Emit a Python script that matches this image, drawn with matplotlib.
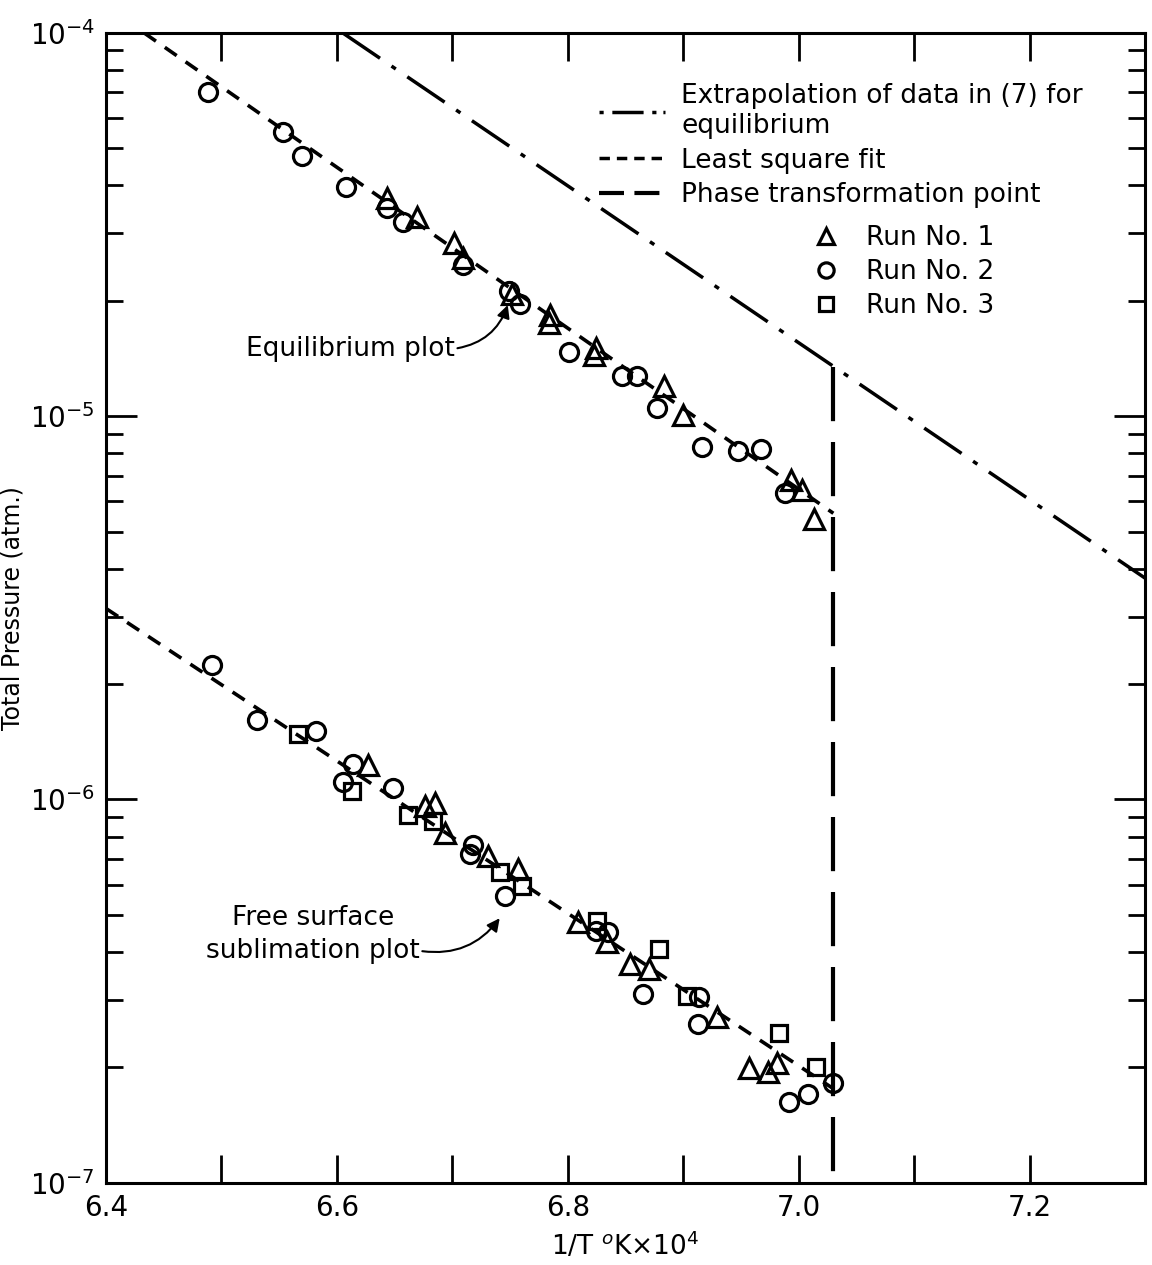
import matplotlib.pyplot as plt
from matplotlib.lines import Line2D
from matplotlib.ticker import MultipleLocator, LogLocator, NullFormatter

plt.rcParams['font.family'] = ['DejaVu Sans']

# Equilibrium plot (1/T x 10^4, total pressure atm)
eq_run1_x = [6.643, 6.669, 6.701, 6.709, 6.752, 6.785, 6.784, 6.824, 6.823,
             6.883, 6.900, 6.993, 7.003, 7.013]
eq_run1_p = [3.71e-5, 3.31e-5, 2.83e-5, 2.59e-5, 2.08e-5, 1.84e-5, 1.75e-5,
             1.51e-5, 1.44e-5, 1.20e-5, 1.01e-5, 6.8e-6, 6.4e-6, 5.4e-6]
eq_run2_x = [6.488, 6.553, 6.570, 6.608, 6.643, 6.657, 6.709, 6.749, 6.759,
             6.801, 6.847, 6.860, 6.877, 6.916, 6.947, 6.967, 6.988]
eq_run2_p = [7.0e-5, 5.5e-5, 4.78e-5, 3.96e-5, 3.49e-5, 3.21e-5, 2.48e-5,
             2.12e-5, 1.96e-5, 1.47e-5, 1.27e-5, 1.27e-5, 1.05e-5, 8.3e-6,
             8.1e-6, 8.2e-6, 6.3e-6]

# Free surface sublimation plot
fs_run1_x = [6.627, 6.676, 6.685, 6.694, 6.731, 6.757, 6.809, 6.834, 6.854,
             6.870, 6.929, 6.957, 6.973, 6.981]
fs_run1_p = [1.23e-6, 9.6e-7, 9.8e-7, 8.2e-7, 7.1e-7, 6.6e-7, 4.78e-7,
             4.25e-7, 3.73e-7, 3.62e-7, 2.71e-7, 1.99e-7, 1.94e-7, 2.05e-7]
fs_run2_x = [6.492, 6.531, 6.582, 6.614, 6.605, 6.649, 6.718, 6.715, 6.746,
             6.824, 6.835, 6.865, 6.914, 6.913, 6.992, 7.008, 7.030]
fs_run2_p = [2.24e-6, 1.61e-6, 1.51e-6, 1.24e-6, 1.11e-6, 1.07e-6, 7.6e-7,
             7.2e-7, 5.6e-7, 4.55e-7, 4.52e-7, 3.11e-7, 3.06e-7, 2.6e-7,
             1.62e-7, 1.70e-7, 1.82e-7]
fs_run3_x = [6.566, 6.613, 6.662, 6.683, 6.741, 6.760, 6.825, 6.879, 6.903,
             6.983, 7.015]
fs_run3_p = [1.48e-6, 1.05e-6, 9.1e-7, 8.8e-7, 6.45e-7, 5.95e-7, 4.83e-7,
             4.08e-7, 3.08e-7, 2.46e-7, 2.0e-7]

# lines
fit_eq_x = [6.433, 7.03]
fit_eq_p = [1.0e-4, 5.58e-6]
fit_fs_x = [6.40, 7.03]
fit_fs_p = [3.15e-6, 1.76e-7]
extrap_x = [6.605, 7.30]
extrap_p = [1.0e-4, 3.78e-6]
phase_x = [7.03, 7.03]
phase_p = [1.34e-5, 1.0e-7]

fig = plt.figure(figsize=(11.52, 12.65), dpi=100)
ax = fig.add_axes([0.092, 0.065, 0.902, 0.909])
ax.set_yscale('log')

fit_style = dict(color='black', lw=2.6, dashes=(4, 3))
ax.plot(fit_eq_x, fit_eq_p, **fit_style)
ax.plot(fit_fs_x, fit_fs_p, **fit_style)
ax.plot(extrap_x, extrap_p, color='black', lw=2.5, dashes=(13, 4, 1.5, 4))
ax.plot(phase_x, phase_p, color='black', lw=3, dashes=(13, 5))

mk = dict(ls='none', mfc='none', mec='black', mew=2.3, color='black')
ax.plot(eq_run1_x, eq_run1_p, marker='^', ms=14, **mk)
ax.plot(eq_run2_x, eq_run2_p, marker='o', ms=13, **mk)
ax.plot(fs_run1_x, fs_run1_p, marker='^', ms=14, **mk)
ax.plot(fs_run2_x, fs_run2_p, marker='o', ms=13, **mk)
ax.plot(fs_run3_x, fs_run3_p, marker='s', ms=12, **mk)

ax.set_xlim(6.4, 7.3)
ax.set_ylim(1e-7, 1e-4)
ax.xaxis.set_major_locator(MultipleLocator(0.2))
ax.xaxis.set_minor_locator(MultipleLocator(0.1))
ax.yaxis.set_major_locator(LogLocator(base=10))
ax.yaxis.set_minor_locator(LogLocator(base=10, subs=range(2, 10)))
ax.yaxis.set_minor_formatter(NullFormatter())
ax.tick_params(which='both', direction='in', top=True, right=True,
               width=2, labelsize=20, pad=8)
ax.tick_params(axis='x', which='both', length=20)
ax.tick_params(axis='y', which='major', length=22)
ax.tick_params(axis='y', which='minor', length=12)
for s in ax.spines.values():
    s.set_linewidth(2.2)

ax.set_xlabel(r'1/T $^o$K$\times$10$^4$', fontsize=19, labelpad=6)
ax.set_ylabel('Total Pressure (atm.)', fontsize=17, labelpad=4)

ax.annotate('Equilibrium plot', xy=(6.748, 1.95e-5), xytext=(6.702, 1.5e-5),
            fontsize=19, ha='right', va='center',
            arrowprops=dict(arrowstyle='-|>', color='black', lw=1.5,
                            relpos=(1, 0.5), shrinkA=0, shrinkB=0,
                            connectionstyle='arc3,rad=0.3'))
ax.annotate('Free surface\nsublimation plot', xy=(6.741, 4.9e-7),
            xytext=(6.579, 4.45e-7), fontsize=19, ha='center', va='center',
            linespacing=1.35,
            arrowprops=dict(arrowstyle='-|>', color='black', lw=1.5,
                            relpos=(1, 0.22), shrinkA=0, shrinkB=0,
                            connectionstyle='arc3,rad=0.3'))

line_handles = [
    Line2D([], [], color='black', lw=2.5, dashes=(1.2, 2.5, 9, 2.5, 1.2, 2)),
    Line2D([], [], color='black', lw=2.5, dashes=(3, 2)),
    Line2D([], [], color='black', lw=3, dashes=(6, 2.5)),
]
leg1 = ax.legend(line_handles,
                 ['Extrapolation of data in (7) for\nequilibrium',
                  'Least square fit', 'Phase transformation point'],
                 loc='upper left', bbox_to_anchor=(0.462, 0.968),
                 frameon=False, fontsize=19, handlelength=2.5,
                 handletextpad=0.6, labelspacing=0.33, borderpad=0)
ax.add_artist(leg1)
marker_handles = [
    Line2D([], [], marker='^', ms=12, **mk),
    Line2D([], [], marker='o', ms=11, **mk),
    Line2D([], [], marker='s', ms=10, **mk),
]
ax.legend(marker_handles, ['Run No. 1', 'Run No. 2', 'Run No. 3'],
          loc='upper left', bbox_to_anchor=(0.665, 0.844), frameon=False,
          fontsize=19, handlelength=1.2, handletextpad=0.9,
          labelspacing=0.3, borderpad=0)

plt.savefig('out.png', dpi=100)
